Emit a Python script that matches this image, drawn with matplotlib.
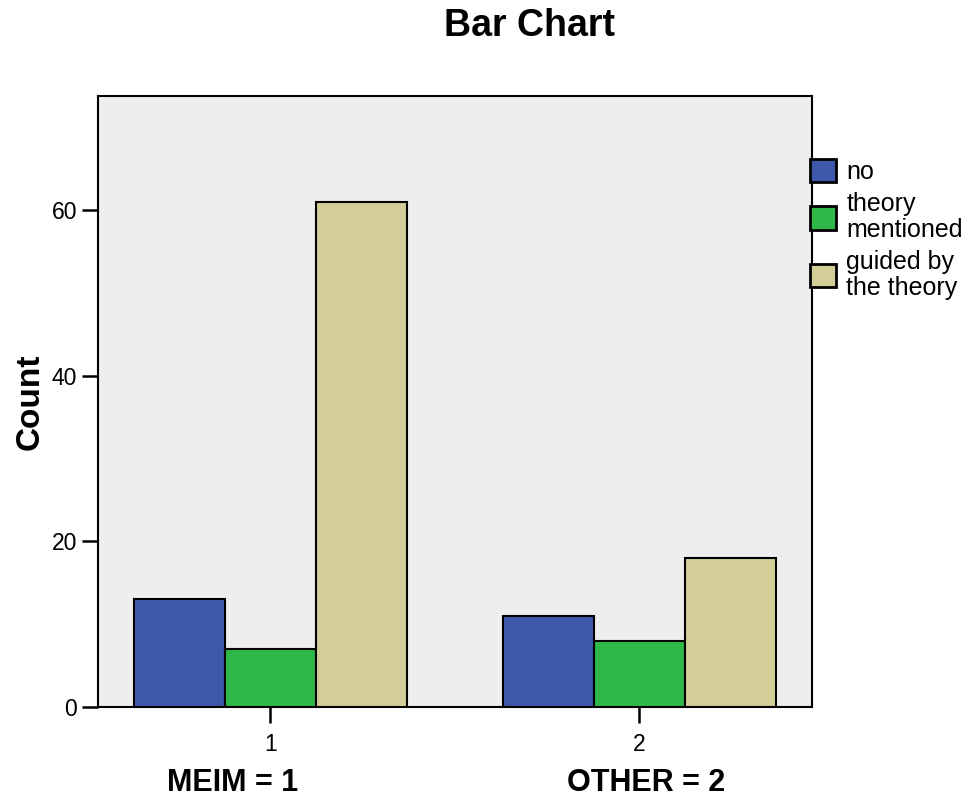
import matplotlib
matplotlib.use("Agg")
import matplotlib.pyplot as plt
import numpy as np

groups = ["1", "2"]
group_names = ["MEIM = 1", "OTHER = 2"]
series = ["no", "theory\nmentioned", "guided by\nthe theory"]
counts = {
    "no": [13, 11],
    "theory\nmentioned": [7, 8],
    "guided by\nthe theory": [61, 18],
}
COLORS = ["#3e58ac", "#2eb848", "#d3ce97"]

plt.rcParams.update({"font.family": ["Liberation Sans", "DejaVu Sans"]})

fig = plt.figure(figsize=(9.67, 7.98), dpi=100)
ax = fig.add_axes([0.1013, 0.114, 0.7384, 0.7657])
ax.set_facecolor("#eeeeee")

x = np.arange(1, len(groups) + 1)
w = 0.2466
for i, s in enumerate(series):
    ax.bar(x + (i - 1) * w, counts[s], width=w, color=COLORS[i], edgecolor="black",
           linewidth=1.5, label=s, zorder=3)

ax.set_xlim(0.5325, 2.4675)
ax.set_ylim(0, 73.8)
ax.set_yticks([0, 20, 40, 60])
ax.set_xticks(x)
ax.set_xticklabels(groups)
ax.tick_params(axis="y", length=11.5, width=1.8, labelsize=16.5, pad=3.5)
ax.tick_params(axis="x", length=11.5, width=1.8, labelsize=16.5, pad=7)
for s in ax.spines.values():
    s.set_linewidth(1.5)

ax.set_ylabel("Count", fontsize=24, fontweight="bold", labelpad=4)
# group captions sit under the tick labels (axes-fraction x positions)
for xf, name in zip([0.189, 0.7675], group_names):
    ax.text(xf, -0.124, name, transform=ax.transAxes, ha="center",
            va="center", fontsize=22, fontweight="bold")

fig.text(0.548, 0.968, "Bar Chart", ha="center", va="center", fontsize=27, fontweight="bold")

leg = fig.legend(loc="upper left", bbox_to_anchor=(0.8376, 0.8008), frameon=False, fontsize=18,
                 handlelength=1.05, handleheight=1.05, handletextpad=0.4, labelspacing=0.32,
                 borderaxespad=0, borderpad=0)
for t in leg.get_texts():
    t.set_linespacing(1.1)
for p in leg.get_patches():
    p.set_linewidth(2)

fig.savefig("out.png", dpi=100)
